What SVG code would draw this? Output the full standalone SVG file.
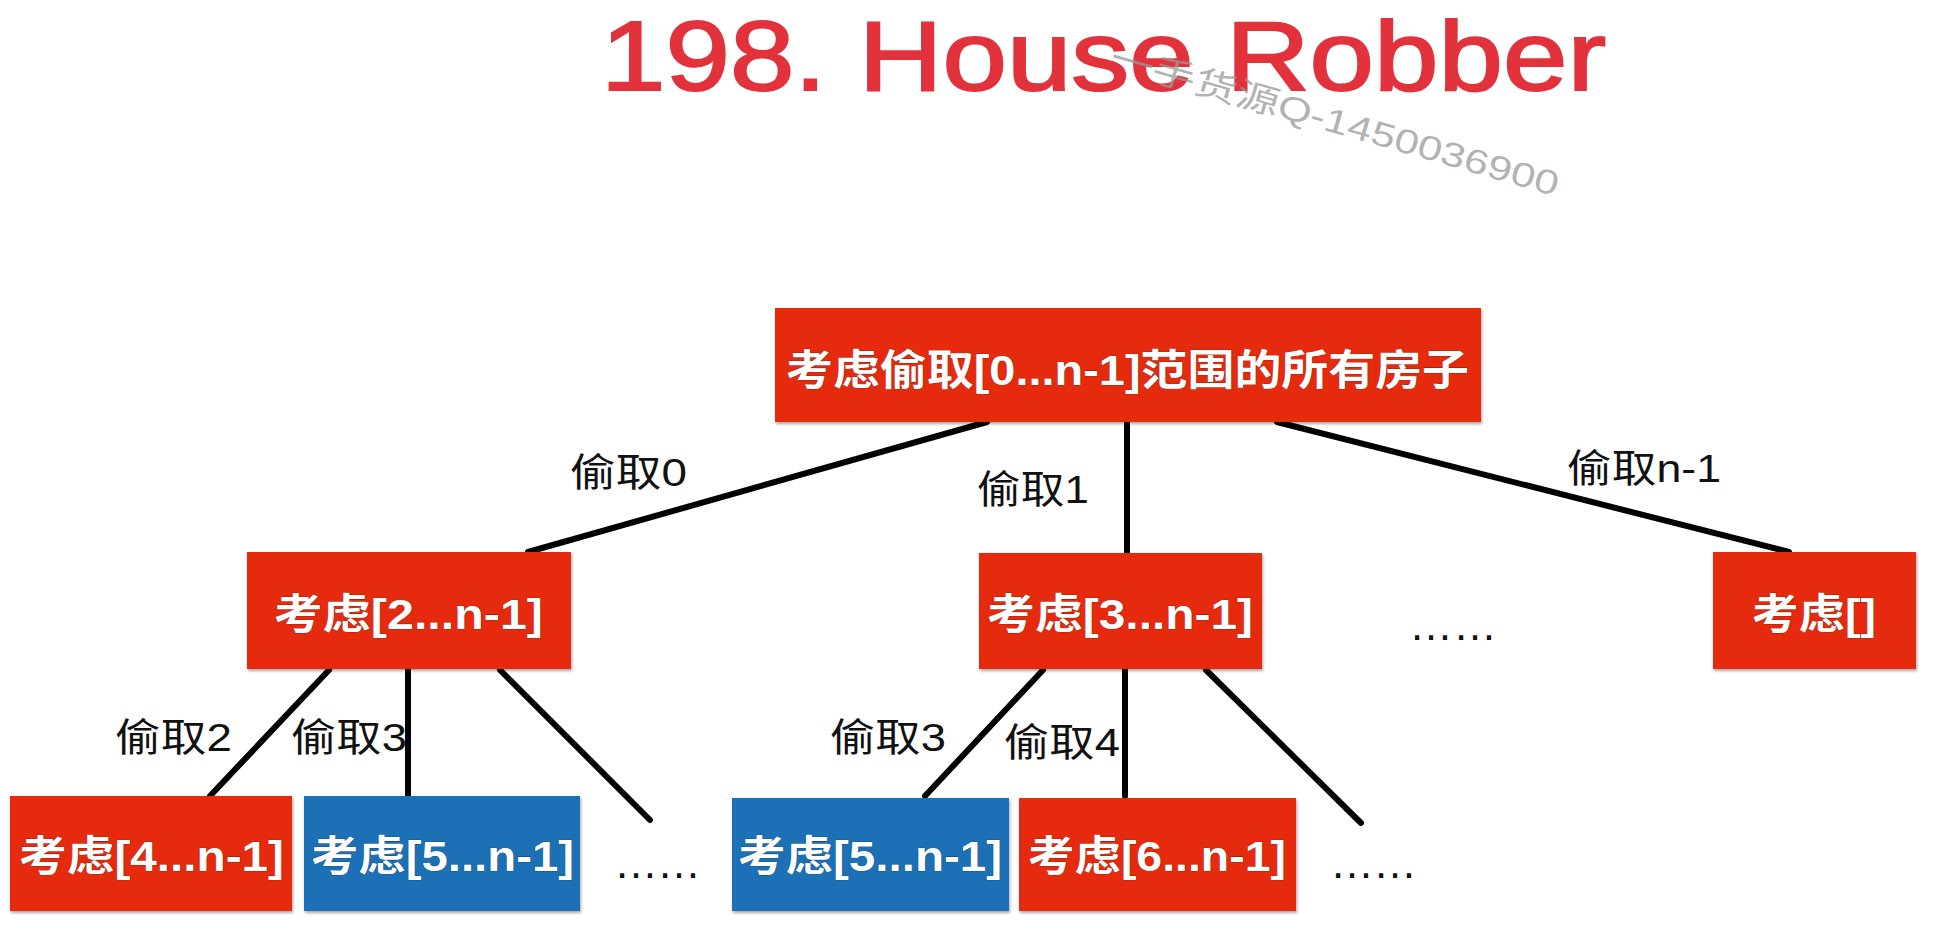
<svg xmlns="http://www.w3.org/2000/svg" width="1935" height="929" viewBox="0 0 1935 929">
<defs>
<filter id="sh" x="-5%" y="-5%" width="110%" height="115%">
<feDropShadow dx="1" dy="2" stdDeviation="1.5" flood-color="#000" flood-opacity="0.35"/>
</filter>
</defs>
<style>
.red{fill:#e62b0c;filter:url(#sh)}
.blue{fill:#1b6fb5;filter:url(#sh)}
.bt{font-family:"Liberation Sans","Noto Sans CJK SC",sans-serif;font-weight:bold;font-size:42px;fill:#fff;stroke:#7a1a0a;stroke-width:0.6;paint-order:stroke}
.lb{font-family:"Liberation Sans","Noto Sans CJK SC",sans-serif;font-size:39px;fill:#111}
.el{font-family:"Liberation Sans",sans-serif;font-size:44px;fill:#111}
.cn{stroke:#000;stroke-width:6;stroke-linecap:round;fill:none}
</style>
<rect width="1935" height="929" fill="#fff"/>
<text x="601" y="90" font-family="Liberation Sans, Arial, sans-serif" font-size="99" fill="#e2323c" stroke="#e2323c" stroke-width="2" textLength="1005" lengthAdjust="spacingAndGlyphs">198. House Robber</text>
<text x="1108" y="68" transform="rotate(16 1108 68)" font-family="Liberation Sans, Noto Sans CJK SC, sans-serif" font-size="34" fill="#999" fill-opacity="0.75" textLength="465" lengthAdjust="spacingAndGlyphs">一手货源Q-1450036900</text>
<g id="connectors">
<line class="cn" x1="987" y1="422" x2="528" y2="552"/>
<line class="cn" x1="1127" y1="422" x2="1127" y2="552"/>
<line class="cn" x1="1277" y1="422" x2="1789" y2="552"/>
<line class="cn" x1="329" y1="670" x2="210" y2="796"/>
<line class="cn" x1="408" y1="670" x2="408" y2="796"/>
<line class="cn" x1="500" y1="670" x2="650" y2="820"/>
<line class="cn" x1="1043" y1="670" x2="925" y2="796"/>
<line class="cn" x1="1125" y1="670" x2="1125" y2="796"/>
<line class="cn" x1="1206" y1="670" x2="1361" y2="823"/>
<text class="lb" x="570" y="486" textLength="117" lengthAdjust="spacingAndGlyphs">偷取0</text>
<text class="lb" x="977" y="503" textLength="112" lengthAdjust="spacingAndGlyphs">偷取1</text>
<text class="lb" x="1567" y="482" textLength="154" lengthAdjust="spacingAndGlyphs">偷取n-1</text>
<text class="lb" x="115" y="751" textLength="117" lengthAdjust="spacingAndGlyphs">偷取2</text>
<text class="lb" x="291" y="751" textLength="116" lengthAdjust="spacingAndGlyphs">偷取3</text>
<text class="lb" x="830" y="751" textLength="116" lengthAdjust="spacingAndGlyphs">偷取3</text>
<text class="lb" x="1004" y="756" textLength="116" lengthAdjust="spacingAndGlyphs">偷取4</text>
</g>
<g id="root">
<rect class="red" x="775" y="308" width="706" height="114"/>
<text class="bt" x="786" y="385" textLength="683" lengthAdjust="spacingAndGlyphs">考虑偷取[0...n-1]范围的所有房子</text>
</g>
<g id="n2">
<rect class="red" x="247" y="552" width="324" height="117"/>
<text class="bt" x="274" y="629" textLength="269" lengthAdjust="spacingAndGlyphs">考虑[2...n-1]</text>
</g>
<g id="n3">
<rect class="red" x="979" y="553" width="283" height="116"/>
<text class="bt" x="987" y="629" textLength="266" lengthAdjust="spacingAndGlyphs">考虑[3...n-1]</text>
</g>
<g id="dots1"><text class="el" x="1409" y="640" textLength="88" lengthAdjust="spacing">……</text></g>
<g id="nEmpty">
<rect class="red" x="1713" y="552" width="203" height="117"/>
<text class="bt" x="1752" y="629" textLength="124" lengthAdjust="spacingAndGlyphs">考虑[]</text>
</g>
<g id="n4">
<rect class="red" x="10" y="796" width="282" height="115"/>
<text class="bt" x="19" y="871" textLength="265" lengthAdjust="spacingAndGlyphs">考虑[4...n-1]</text>
</g>
<g id="n5a">
<rect class="blue" x="304" y="796" width="276" height="115"/>
<text class="bt" x="311" y="871" textLength="263" lengthAdjust="spacingAndGlyphs" style="stroke:#0c3a66">考虑[5...n-1]</text>
</g>
<g id="dots2"><text class="el" x="614" y="878" textLength="87" lengthAdjust="spacing">……</text></g>
<g id="n5b">
<rect class="blue" x="732" y="798" width="277" height="113"/>
<text class="bt" x="738" y="871" textLength="264" lengthAdjust="spacingAndGlyphs" style="stroke:#0c3a66">考虑[5...n-1]</text>
</g>
<g id="n6">
<rect class="red" x="1019" y="798" width="277" height="113"/>
<text class="bt" x="1028" y="871" textLength="258" lengthAdjust="spacingAndGlyphs">考虑[6...n-1]</text>
</g>
<g id="dots3"><text class="el" x="1330" y="878" textLength="87" lengthAdjust="spacing">……</text></g>
</svg>
